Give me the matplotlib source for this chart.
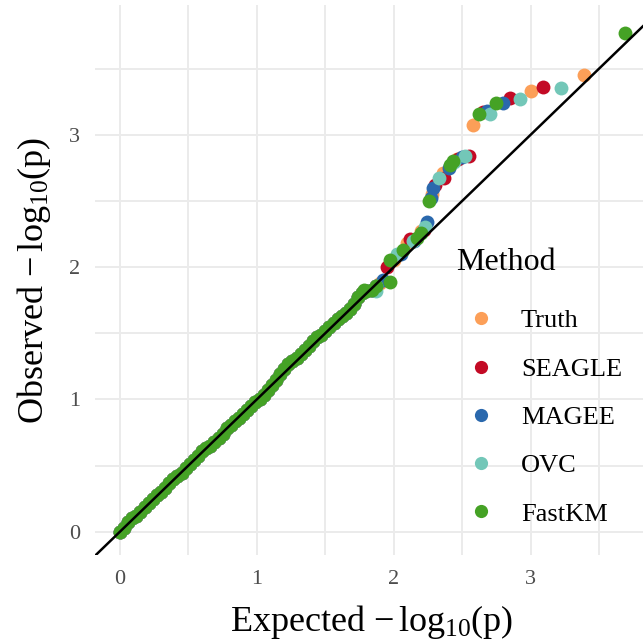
import matplotlib
matplotlib.use("Agg")
import matplotlib.pyplot as plt
from matplotlib.lines import Line2D

plt.rcParams['font.family'] = ['Liberation Serif', 'DejaVu Serif']
plt.rcParams['mathtext.fontset'] = 'custom'
plt.rcParams['mathtext.rm'] = 'Liberation Serif'
plt.rcParams['mathtext.it'] = 'Liberation Serif:italic'

# bulk of the QQ points (all methods sit on top of each other here)
bulk_expected = [0.00, 0.03, 0.06, 0.09, 0.12, 0.15, 0.18, 0.21, 0.24, 0.27,
                 0.30, 0.33, 0.36, 0.39, 0.42, 0.45, 0.48, 0.51, 0.54, 0.57,
                 0.60, 0.63, 0.66, 0.69, 0.72, 0.75, 0.78, 0.81, 0.84, 0.87,
                 0.90, 0.93, 0.96, 0.99, 1.02, 1.05, 1.08, 1.11, 1.14, 1.17,
                 1.20, 1.23, 1.26, 1.29, 1.32, 1.35, 1.38, 1.41, 1.44, 1.47,
                 1.50, 1.53, 1.56, 1.59, 1.62, 1.65, 1.68, 1.71, 1.74, 1.77,
                 1.80, 1.84, 1.87]
bulk_observed = [0.00, 0.03, 0.07, 0.10, 0.12, 0.15, 0.19, 0.22, 0.25, 0.28,
                 0.30, 0.33, 0.37, 0.40, 0.42, 0.44, 0.48, 0.51, 0.54, 0.57,
                 0.61, 0.63, 0.65, 0.68, 0.71, 0.74, 0.78, 0.81, 0.84, 0.86,
                 0.89, 0.92, 0.95, 0.98, 1.00, 1.03, 1.07, 1.11, 1.15, 1.19,
                 1.23, 1.27, 1.29, 1.31, 1.34, 1.37, 1.40, 1.44, 1.47, 1.49,
                 1.52, 1.55, 1.58, 1.61, 1.63, 1.65, 1.68, 1.72, 1.77, 1.80,
                 1.82, 1.83, 1.86]

# upper tails, per method
methods = ["Truth", "SEAGLE", "MAGEE", "OVC", "FastKM"]
colors = ["#FC9F58", "#C30A25", "#2A68AD", "#73C7B8", "#45A225"]

truth_x = [1.90, 2.00, 2.10, 2.20, 2.28, 2.36, 2.46, 2.58, 3.00, 3.39]
truth_y = [1.88, 2.05, 2.18, 2.27, 2.55, 2.71, 2.82, 3.07, 3.33, 3.45]
seagle_x = [1.95, 2.12, 2.22, 2.30, 2.37, 2.47, 2.55, 2.65, 2.85, 3.09]
seagle_y = [2.00, 2.21, 2.28, 2.62, 2.67, 2.82, 2.84, 3.17, 3.28, 3.36]
magee_x = [1.92, 2.05, 2.15, 2.24, 2.27, 2.29, 2.40, 2.50, 2.68, 2.80]
magee_y = [1.90, 2.10, 2.20, 2.34, 2.52, 2.60, 2.75, 2.83, 3.18, 3.24]
ovc_x = [1.87, 2.02, 2.14, 2.23, 2.33, 2.44, 2.52, 2.70, 2.92, 3.22]
ovc_y = [1.82, 2.10, 2.20, 2.30, 2.67, 2.79, 2.84, 3.16, 3.27, 3.35]
fastkm_x = [1.78, 1.97, 1.97, 2.07, 2.17, 2.20, 2.26, 2.41, 2.43, 2.62, 2.75, 3.69]
fastkm_y = [1.83, 1.89, 2.05, 2.13, 2.22, 2.26, 2.50, 2.77, 2.80, 3.16, 3.24, 3.77]

tails = [(truth_x, truth_y), (seagle_x, seagle_y), (magee_x, magee_y),
         (ovc_x, ovc_y), (fastkm_x, fastkm_y)]

fig = plt.figure(figsize=(6.43, 6.44), dpi=100)
ax = fig.add_axes([95 / 643, 89 / 644, 548 / 643, 550 / 644])

for name, col, (tx, ty) in zip(methods, colors, tails):
    ax.scatter(bulk_expected + tx, bulk_observed + ty, s=100, color=col,
               linewidths=0, zorder=3)

ax.axline((0, 0), slope=1, color="black", lw=1.8, zorder=4)

ax.set_xlim(-0.182, 3.82)
ax.set_ylim(-0.176, 3.98)
ax.set_xticks([0, 1, 2, 3])
ax.set_yticks([0, 1, 2, 3])
ax.set_xticks([0.5, 1.5, 2.5, 3.5], minor=True)
ax.set_yticks([0.5, 1.5, 2.5, 3.5], minor=True)
ax.grid(True, which="both", color="#EBEBEB", lw=1.4, zorder=0)
ax.set_axisbelow(True)
for s in ax.spines.values():
    s.set_visible(False)
ax.tick_params(which="both", length=0, pad=10.5, labelsize=16,
               labelcolor="#4D4D4D")

ax.set_xlabel(r"Expected $-\,\mathrm{log}_{10}(\mathrm{p})$", fontsize=26)
ax.set_ylabel(r"Observed $-\,\mathrm{log}_{10}(\mathrm{p})$", fontsize=26)
ax.xaxis.set_label_coords(0.504, -0.088)
ax.yaxis.set_label_coords(-0.077, 0.5)

# legend, drawn without a frame inside the panel
handles = [Line2D([], [], marker="o", ls="", color=c, markersize=9.5,
                  markeredgewidth=0) for c in colors]
fig.legend(handles, methods, loc="upper left",
           bbox_to_anchor=(468 / 643, 1 - 309 / 644), frameon=False,
           fontsize=19, borderpad=0, borderaxespad=0, handlelength=1.0,
           handletextpad=1.0, labelspacing=0.94)
fig.text(456 / 643, 1 - 263 / 644, "Method", fontsize=23, ha="left",
         va="center")

fig.savefig("out.png", dpi=100)
